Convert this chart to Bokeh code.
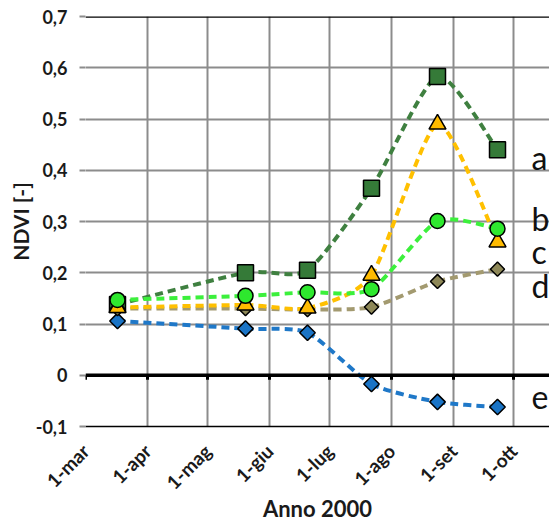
import numpy as np
import pandas as pd
from bokeh.plotting import figure
from bokeh.models import (Range1d, FixedTicker, CustomJSTickFormatter, Span, ColumnDataSource)
from bokeh.core.properties import value
from bokeh.embed import file_html
from bokeh.resources import INLINE

# ---------------- data ----------------
dates = ["2000-03-17", "2000-05-20", "2000-06-20", "2000-07-22", "2000-08-24", "2000-09-23"]
series_a = [0.138, 0.200, 0.205, 0.365, 0.583, 0.440]
series_b = [0.147, 0.155, 0.162, 0.168, 0.301, 0.286]
series_c = [0.132, 0.137, 0.131, 0.195, 0.490, 0.260]
series_d = [0.130, 0.130, 0.128, 0.133, 0.183, 0.207]
series_e = [0.106, 0.091, 0.083, -0.017, -0.052, -0.062]
series_names = ["a", "b", "c", "d", "e"]

month_ticks = ["2000-03-01", "2000-04-01", "2000-05-01", "2000-06-01",
               "2000-07-01", "2000-08-01", "2000-09-01", "2000-10-01"]
month_labels = ["1-mar", "1-apr", "1-mag", "1-giu", "1-lug", "1-ago", "1-set", "1-ott"]
y_ticks = [-0.1, 0.0, 0.1, 0.2, 0.3, 0.4, 0.5, 0.6, 0.7]
x_start, x_end = "2000-03-01", "2000-10-19"


def ms(d):
    return pd.Timestamp(d).value / 1e6


xs = [ms(d) for d in dates]
tick_ms = [ms(d) for d in month_ticks]

FONT = "Lato"
p = figure(width=549, height=524, output_backend="svg", toolbar_location=None,
           x_range=Range1d(ms(x_start), ms(x_end)), y_range=Range1d(-0.1, 0.7),
           min_border_left=85, min_border_right=0, min_border_top=16, min_border_bottom=94)
p.outline_line_color = None
p.background_fill_color = "white"
p.border_fill_color = "white"

# grid
p.xgrid.ticker = FixedTicker(ticks=tick_ms)
p.ygrid.ticker = FixedTicker(ticks=y_ticks)
for g in (p.xgrid, p.ygrid):
    g.grid_line_color = "#8c8c8c"
    g.grid_line_width = 2

# x axis
xa = p.xaxis[0]
xa.ticker = FixedTicker(ticks=tick_ms)
xa.formatter = CustomJSTickFormatter(args=dict(tvals=tick_ms, tlabels=month_labels), code="""
let best = -1, bd = Infinity;
for (let i = 0; i < tvals.length; i++) { const d = Math.abs(tvals[i] - tick); if (d < bd) { bd = d; best = i; } }
return bd < 1e7 ? tlabels[best] : '';
""")
xa.major_label_orientation = np.pi / 4
xa.major_label_text_font = FONT
xa.major_label_text_font_style = "bold"
xa.major_label_text_font_size = "19px"
xa.major_label_text_color = "#1a1a1a"
xa.major_label_standoff = 21
xa.major_tick_out = 0
xa.major_tick_in = 0
xa.minor_tick_out = 0
xa.minor_tick_in = 0
xa.axis_line_color = "black"
xa.axis_line_width = 1.5
xa.axis_label = "Anno 2000"
xa.axis_label_text_font = FONT
xa.axis_label_text_font_style = "bold"
xa.axis_label_text_font_size = "22px"
xa.axis_label_text_color = "#1a1a1a"
xa.axis_label_standoff = -10

# y axis
ya = p.yaxis[0]
ya.ticker = FixedTicker(ticks=y_ticks)
ya.formatter = CustomJSTickFormatter(code="""
if (Math.abs(tick) < 1e-9) return '0';
return tick.toFixed(1).replace('.', ',');
""")
ya.major_label_text_font = FONT
ya.major_label_text_font_style = "bold"
ya.major_label_text_font_size = "18px"
ya.major_label_text_color = "#1a1a1a"
ya.major_label_standoff = 12
ya.major_tick_out = 6
ya.major_tick_in = 0
ya.major_tick_line_color = "#8c8c8c"
ya.major_tick_line_width = 2
ya.minor_tick_out = 0
ya.minor_tick_in = 0
ya.axis_line_color = None
ya.axis_label = "NDVI [-]"
ya.axis_label_text_font = FONT
ya.axis_label_text_font_style = "bold"
ya.axis_label_text_font_size = "21px"
ya.axis_label_text_color = "#1a1a1a"
ya.axis_label_standoff = 0

# zero line and top border
p.add_layout(Span(location=0, dimension="width", line_color="black", line_width=3.5))
p.add_layout(Span(location=0.7, dimension="width", line_color="black", line_width=2.5))
p.segment(x0=tick_ms, y0=[0] * len(tick_ms), x1=tick_ms, y1=[-0.009] * len(tick_ms),
          line_color="black", line_width=3)

TENSION = 1 / 9


def smooth_segments(x, y):
    x = np.asarray(x, float)
    y = np.asarray(y, float)
    n = len(x)
    X = np.concatenate([[x[0]], x, [x[-1]]])
    Y = np.concatenate([[y[0]], y, [y[-1]]])
    d = dict(x0=[], y0=[], x1=[], y1=[], cx0=[], cy0=[], cx1=[], cy1=[])
    for i in range(n - 1):
        j = i + 1
        d["x0"].append(X[j]); d["y0"].append(Y[j])
        d["x1"].append(X[j + 1]); d["y1"].append(Y[j + 1])
        d["cx0"].append(X[j] + (X[j + 1] - X[j - 1]) * TENSION)
        d["cy0"].append(Y[j] + (Y[j + 1] - Y[j - 1]) * TENSION)
        d["cx1"].append(X[j + 1] - (X[j + 2] - X[j]) * TENSION)
        d["cy1"].append(Y[j + 1] - (Y[j + 2] - Y[j]) * TENSION)
    return ColumnDataSource(d)


styles = {
    "a": dict(vals=series_a, line="#3f8040", fill="#357a38", marker="square", size=16, angle=0),
    "b": dict(vals=series_b, line="#3cf03c", fill="#2ee82e", marker="circle", size=15, angle=0),
    "c": dict(vals=series_c, line="#ffc000", fill="#ffbb00", marker="triangle", size=17, angle=0),
    "d": dict(vals=series_d, line="#a39a70", fill="#8e8858", marker="square", size=10, angle=np.pi / 4),
    "e": dict(vals=series_e, line="#1f78c8", fill="#1a74c6", marker="square", size=11, angle=np.pi / 4),
}

for name in ["a", "e", "d", "c", "b"]:
    s = styles[name]
    p.bezier(x0="x0", y0="y0", x1="x1", y1="y1", cx0="cx0", cy0="cy0", cx1="cx1", cy1="cy1",
             source=smooth_segments(xs, s["vals"]), line_color=s["line"], line_width=4,
             line_dash="8 5")

for name in ["a", "e", "d", "c", "b"]:
    s = styles[name]
    p.scatter(x=xs, y=s["vals"], marker=s["marker"], size=s["size"], angle=s["angle"],
              fill_color=s["fill"], line_color="black", line_width=1.5)

# series letters at right
letter_x = ms("2000-10-10")
letter_y = [0.425, 0.305, 0.241, 0.176, -0.043]
p.text(x=[letter_x] * 5, y=letter_y, text=series_names, text_font=value(FONT),
       text_font_size="32px", text_color="#111111", text_align="left",
       text_baseline="alphabetic")

open("out.html", "w").write(file_html(p, INLINE))
